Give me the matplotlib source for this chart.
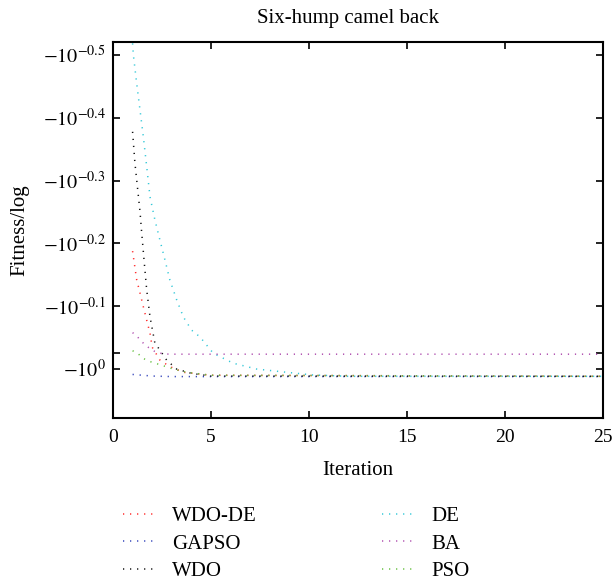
import matplotlib.pyplot as plt
from matplotlib.ticker import FixedLocator, FixedFormatter
import numpy as np

plt.rcParams['font.family'] = ['Liberation Serif', 'DejaVu Serif']
plt.rcParams['mathtext.fontset'] = 'stix'

# Fitness values (negative, plotted on a log scale)
it_wdode = [1, 1.21, 1.38, 1.55, 1.72, 1.89, 2.0, 2.4, 2.9, 3.6, 5, 25]
fit_wdode = [-0.649, -0.721, -0.757, -0.796, -0.836, -0.877, -0.923, -0.968, -0.991, -1.012, -1.023, -1.027]

it_gapso = [1, 2, 3, 25]
fit_gapso = [-1.020, -1.026, -1.028, -1.028]

it_wdo = [1, 1.12, 1.21, 1.38, 1.46, 1.6, 1.72, 1.89, 2.14, 2.4, 2.74, 3.25, 4, 5, 25]
fit_wdo = [-0.419, -0.470, -0.500, -0.562, -0.604, -0.679, -0.748, -0.826, -0.910, -0.933, -0.968, -1.0, -1.016, -1.026, -1.027]

it_de = [1, 1.04, 1.21, 1.38, 1.55, 1.72, 1.89, 2.14, 2.4, 2.65, 2.9, 3.25, 3.59, 4.01, 4.44,
         5.12, 6.14, 7.33, 8.86, 10.2, 12, 25]
fit_de = [-0.303, -0.316, -0.351, -0.387, -0.427, -0.476, -0.532, -0.579, -0.624, -0.670, -0.721,
          -0.776, -0.826, -0.867, -0.889, -0.944, -0.979, -1.0, -1.012, -1.022, -1.027, -1.027]

it_ba = [1, 1.2, 1.46, 1.72, 2.14, 2.57, 3, 25]
fit_ba = [-0.875, -0.885, -0.904, -0.920, -0.938, -0.946, -0.947, -0.947]

it_pso = [1, 1.29, 1.55, 1.89, 2.48, 3.08, 3.76, 5, 25]
fit_pso = [-0.935, -0.946, -0.962, -0.973, -0.986, -1.0, -1.012, -1.023, -1.027]

ytick_exp = [-0.5, -0.4, -0.3, -0.2, -0.1, 0]

fig = plt.figure(figsize=(6.13, 5.84), dpi=100)
ax = fig.add_axes([0.1843, 0.2842, 0.7994, 0.6438])

dots = (0.8, 3.8)
series = [
    (it_wdode, fit_wdode, '#ff2a2a', 'WDO-DE'),
    (it_gapso, fit_gapso, '#3344bb', 'GAPSO'),
    (it_wdo, fit_wdo, '#111111', 'WDO'),
    (it_de, fit_de, '#33c8d8', 'DE'),
    (it_ba, fit_ba, '#b050b0', 'BA'),
    (it_pso, fit_pso, '#66c040', 'PSO'),
]
for x, y, c, lab in series:
    ax.plot(x, -np.array(y), color=c, lw=1.1, dashes=dots, label=lab)

ax.set_yscale('log')
ax.set_ylim(10 ** 0.078, 10 ** -0.5207)
ax.yaxis.set_major_locator(FixedLocator([10 ** e for e in ytick_exp]))
ax.yaxis.set_major_formatter(FixedFormatter(
    [r'$-10^{%g}$' % e if e != 0 else r'$-10^{0}$' for e in ytick_exp]))
ax.yaxis.set_minor_locator(FixedLocator([10 ** -0.0255]))
ax.set_xlim(0, 25)
ax.set_xticks([0, 5, 10, 15, 20, 25])

for s in ax.spines.values():
    s.set_linewidth(1.5)
ax.tick_params(which='both', direction='in', top=True, right=True, width=1.2, length=5)
ax.tick_params(axis='x', labelsize=14, pad=8)
ax.tick_params(axis='y', labelsize=14.5, pad=5)

ax.set_title('Six-hump camel back', fontsize=15, pad=14, x=0.48)
ax.set_xlabel('Iteration', fontsize=15, labelpad=11)
ax.set_ylabel('Fitness/log', fontsize=15)
ax.yaxis.set_label_coords(-0.17, 0.5)

fig.legend(loc='upper left', bbox_to_anchor=(0.2, 0.132), ncol=2, frameon=False,
           fontsize=15, handlelength=1.7, handletextpad=0.67, columnspacing=6.0,
           labelspacing=0.37, borderaxespad=0, borderpad=0)

fig.savefig('out.png', dpi=100)
